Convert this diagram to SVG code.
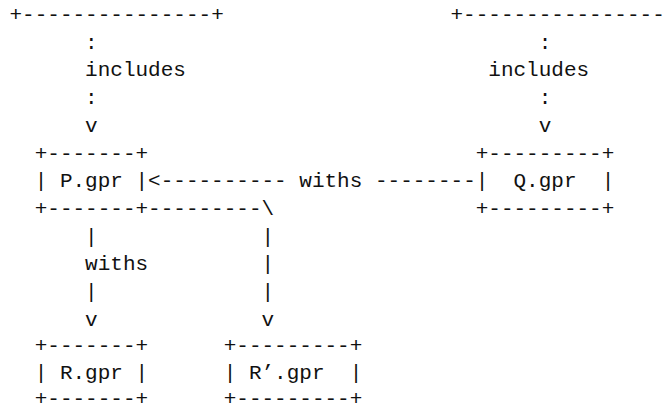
<svg xmlns="http://www.w3.org/2000/svg" width="668" height="411" viewBox="0 0 668 411">
<style>
text{font-family:"Liberation Mono","DejaVu Sans Mono",monospace;font-size:21px;fill:#111;white-space:pre}
</style>
<rect width="668" height="411" fill="#fff"/>
<g id="top-left">
<text x="9.5" y="21" xml:space="preserve">+---------------+</text>
</g>
<g id="top-right">
<text x="450.5" y="21" xml:space="preserve">+----------------</text>
</g>
<g id="P">
<text x="34.7" y="159.5" xml:space="preserve">+-------+</text>
<text x="34.7" y="187.2" xml:space="preserve">| P.gpr |</text>
<text x="34.7" y="214.9" xml:space="preserve">+-------+</text>
</g>
<g id="Q">
<text x="475.7" y="159.5" xml:space="preserve">+---------+</text>
<text x="475.7" y="187.2" xml:space="preserve">|  Q.gpr  |</text>
<text x="475.7" y="214.9" xml:space="preserve">+---------+</text>
</g>
<g id="R">
<text x="34.7" y="352" xml:space="preserve">+-------+</text>
<text x="34.7" y="379" xml:space="preserve">| R.gpr |</text>
<text x="34.7" y="404.5" xml:space="preserve">+-------+</text>
</g>
<g id="Rprime">
<text x="223.7" y="352" xml:space="preserve">+---------+</text>
<text x="223.7" y="379" xml:space="preserve">| R’.gpr  |</text>
<text x="223.7" y="404.5" xml:space="preserve">+---------+</text>
</g>
<g id="connectors">
<text x="85.1" y="48.7">:</text>
<text x="85.1" y="76.4">includes</text>
<text x="85.1" y="104.1">:</text>
<text x="85.1" y="131.8">v</text>
<text x="538.7" y="48.7">:</text>
<text x="488.3" y="76.4">includes</text>
<text x="538.7" y="104.1">:</text>
<text x="538.7" y="131.8">v</text>
<text x="148.1" y="187.2" xml:space="preserve">&lt;---------- withs --------</text>
<text x="148.1" y="214.9" xml:space="preserve">---------\</text>
<text x="85.1" y="242.6">|</text>
<text x="85.1" y="270.3">withs</text>
<text x="85.1" y="298">|</text>
<text x="85.1" y="325.7">v</text>
<text x="261.5" y="242.6">|</text>
<text x="261.5" y="270.3">|</text>
<text x="261.5" y="298">|</text>
<text x="261.5" y="325.7">v</text>
</g>
</svg>
